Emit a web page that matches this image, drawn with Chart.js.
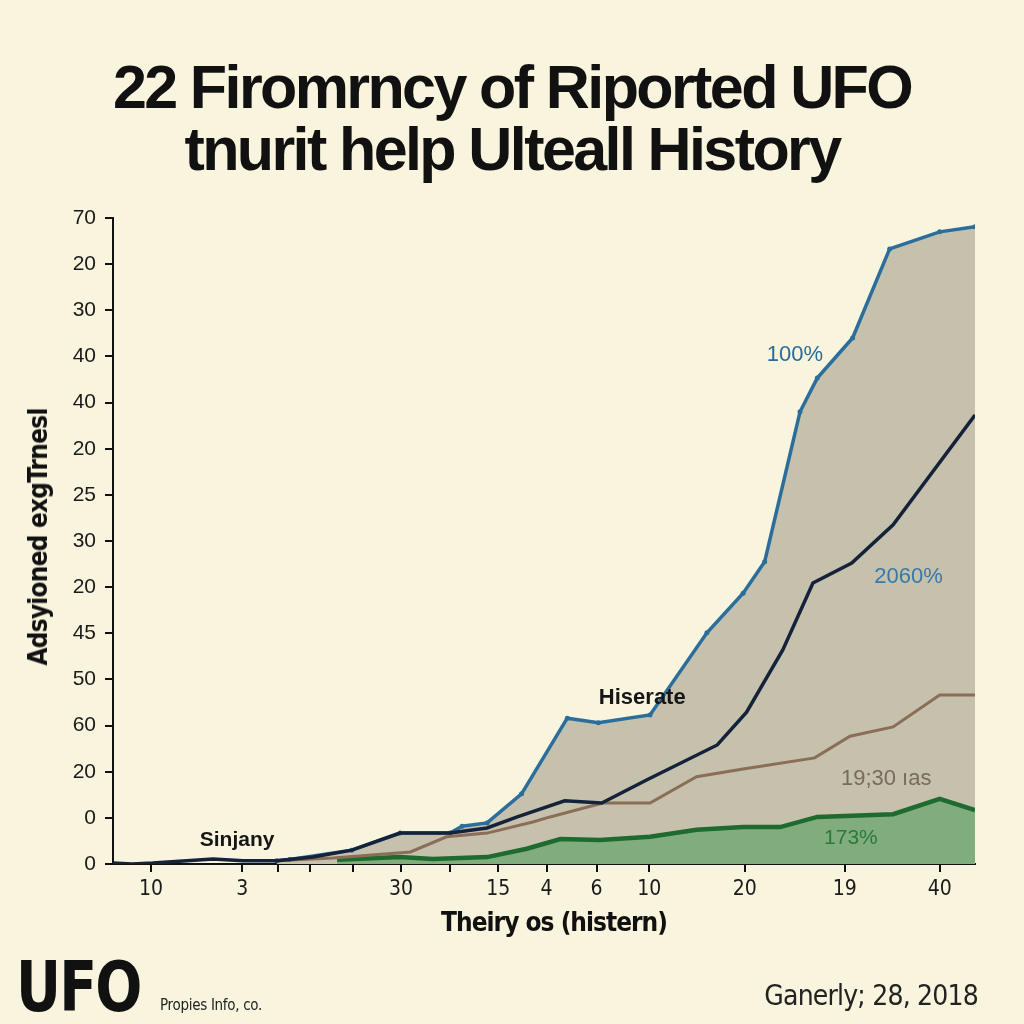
<!DOCTYPE html>
<html>
<head>
<meta charset="utf-8">
<script src="https://cdn.jsdelivr.net/npm/chart.js@4.4.0/dist/chart.umd.min.js"></script>
<style>
  html, body { margin: 0; padding: 0; background: #f8f4dd; }
  #wrap { position: relative; width: 1024px; height: 1024px; overflow: hidden; }
  #c { position: absolute; left: 0; top: 0; }
  .t { position: absolute; white-space: nowrap; color: #111; }
  #title { left: 0; width: 1024px; top: 56px; text-align: center; font: 700 61px "Liberation Sans", Arial, sans-serif; letter-spacing: -2.6px; line-height: 62px; }
  #ytitle { left: 38px; top: 537px; transform: translate(-50%, -50%) rotate(-90deg); font: 700 26px "DejaVu Sans Condensed", sans-serif; letter-spacing: -0.8px; }
  #xtitle { left: 554px; top: 922px; transform: translate(-50%, -50%); font: 700 26px "DejaVu Sans Condensed", sans-serif; letter-spacing: -1px; }
  #logo { left: 16px; top: 946px; font: 700 70px "DejaVu Sans Condensed", sans-serif; letter-spacing: -2px; transform: scaleX(0.88); transform-origin: left top; }
  #src { left: 160px; top: 996px; font: 400 15px "DejaVu Sans Condensed", sans-serif; color: #222; letter-spacing: -0.3px; }
  #date { right: 46px; top: 979px; font: 400 28px "DejaVu Sans Condensed", sans-serif; color: #222; letter-spacing: -0.8px; }
</style>
</head>
<body>
<div id="wrap">
  <canvas id="c" width="1024" height="1024"></canvas>
  <div class="t" id="title">22 Firomrncy of Riported UFO<br>tnurit help Ulteall History</div>
  <div class="t" id="ytitle">Adsyioned exgTrnesl</div>
  <div class="t" id="xtitle">Theiry os (histern)</div>
  <div class="t" id="logo">UFO</div>
  <div class="t" id="src">Propies Info, co.</div>
  <div class="t" id="date">Ganerly; 28, 2018</div>
</div>
<script>
// tick labels as printed on the chart (y: bottom to top)
const yTickLabels = ["0", "0", "20", "60", "50", "45", "20", "30", "25", "20", "40", "40", "30", "20", "70"];
const xTickValues = [4.4, 15.0, 19.1, 22.9, 27.8, 33.4, 39.1, 44.7, 50.3, 56.1, 62.2, 73.3, 84.9, 95.9];
const xTickLabels = ["10", "3", "", "", "", "30", "", "15", "4", "6", "10", "20", "19", "40"];

// series
const blueX = [19.0, 20.5, 27.7, 33.3, 39.1, 40.5, 43.4, 47.4, 52.7, 56.3, 62.3, 68.9, 73.1, 75.6, 79.7, 81.7, 85.8, 90.1, 95.9, 100];
const blueY = [0.07, 0.1, 0.3, 0.67, 0.67, 0.82, 0.89, 1.52, 3.16, 3.06, 3.23, 5.01, 5.87, 6.55, 9.8, 10.53, 11.4, 13.33, 13.7, 13.81];

const navyX = [0, 2.2, 4.6, 11.6, 15.1, 19.0, 23.2, 27.7, 33.3, 39.1, 43.4, 46.9, 52.4, 56.7, 61.9, 70.1, 73.5, 77.7, 81.2, 85.7, 90.5, 100];
const navyY = [0.02, 0, 0.02, 0.11, 0.07, 0.07, 0.15, 0.3, 0.67, 0.67, 0.78, 1.02, 1.37, 1.32, 1.82, 2.58, 3.29, 4.64, 6.09, 6.52, 7.35, 9.73];

const brownX = [19.0, 25.5, 34.5, 38.7, 43.4, 48.7, 50.7, 56.8, 62.3, 67.7, 73.1, 81.4, 85.5, 90.5, 95.9, 100];
const brownY = [0.07, 0.13, 0.26, 0.59, 0.67, 0.91, 1.02, 1.32, 1.32, 1.89, 2.06, 2.3, 2.77, 2.97, 3.66, 3.66];

const greenX = [26.0, 33.3, 37.1, 43.4, 48.0, 51.9, 56.5, 62.3, 67.7, 73.1, 77.4, 81.7, 90.5, 95.9, 100];
const greenY = [0.09, 0.15, 0.11, 0.15, 0.33, 0.54, 0.52, 0.59, 0.74, 0.8, 0.8, 1.02, 1.08, 1.41, 1.17];

// in-plot notes: text, x, y (data units)
const noteText = ["100%", "2060%", "Hiserate", "19;30 ıas", "173%", "Sinjany"];
const noteX = [79.1, 92.3, 61.4, 89.7, 85.6, 14.4];
const noteY = [11.03, 6.22, 3.6, 1.84, 0.56, 0.52];

const pts = (xs, ys) => xs.map((x, i) => ({ x, y: ys[i] }));

const noteStyles = [
	{ color: "#2c6a97", font: "400 22px 'Liberation Sans', Arial, sans-serif" },
	{ color: "#3a78a6", font: "400 22px 'Liberation Sans', Arial, sans-serif" },
	{ color: "#161616", font: "700 22px 'Liberation Sans', Arial, sans-serif" },
	{ color: "#7a6a5c", font: "400 22px 'Liberation Sans', Arial, sans-serif" },
	{ color: "#2b7a3c", font: "400 21px 'Liberation Sans', Arial, sans-serif" },
	{ color: "#161616", font: "700 21px 'Liberation Sans', Arial, sans-serif" },
];

const notesPlugin = {
	id: "notes",
	afterDatasetsDraw(chart) {
		const { ctx, scales } = chart;
		ctx.save();
		ctx.textAlign = "center";
		ctx.textBaseline = "middle";
		noteText.forEach((t, i) => {
			ctx.font = noteStyles[i].font;
			ctx.fillStyle = noteStyles[i].color;
			ctx.fillText(t, scales.x.getPixelForValue(noteX[i]), scales.y.getPixelForValue(noteY[i]));
		});
		ctx.restore();
	},
};

new Chart(document.getElementById("c"), {
	type: "line",
	data: {
		datasets: [
			{
				label: "blue",
				data: pts(blueX, blueY),
				borderColor: "#2b6e9c",
				backgroundColor: "#c5c1ad",
				borderWidth: 3.5,
				pointRadius: 2.5,
				pointBackgroundColor: "#2b6e9c",
				pointBorderWidth: 0,
				fill: "origin",
				tension: 0,
				order: 4,
			},
			{
				label: "green",
				data: pts(greenX, greenY),
				borderColor: "#1e6a2f",
				backgroundColor: "#80ac7e",
				borderWidth: 4.5,
				pointRadius: 0,
				fill: "origin",
				tension: 0,
				order: 3,
			},
			{
				label: "brown",
				data: pts(brownX, brownY),
				borderColor: "#8a6e57",
				borderWidth: 3,
				pointRadius: 0,
				fill: false,
				tension: 0,
				order: 2,
			},
			{
				label: "navy",
				data: pts(navyX, navyY),
				borderColor: "#14223a",
				borderWidth: 3.5,
				pointRadius: 0,
				fill: false,
				tension: 0,
				order: 1,
			},
		],
	},
	options: {
		responsive: false,
		animation: false,
		layout: { padding: { left: 0, top: 218, right: 49, bottom: 0 } },
		plugins: { legend: { display: false }, tooltip: { enabled: false } },
		scales: {
			x: {
				type: "linear",
				min: 0,
				max: 100,
				afterFit: (s) => { s.height = 160; },
				afterBuildTicks: (s) => { s.ticks = xTickValues.map((v) => ({ value: v })); },
				ticks: {
					autoSkip: false,
					maxRotation: 0,
					padding: 5,
					color: "#1a1a1a",
					font: { family: "'DejaVu Sans Condensed', sans-serif", size: 21 },
					callback: (v, i) => xTickLabels[i],
				},
				grid: { drawOnChartArea: false, tickLength: 8, color: "#111", lineWidth: 2 },
				border: { color: "#111", width: 2 },
			},
			y: {
				type: "linear",
				min: 0,
				max: 14,
				afterFit: (s) => { s.width = 113; },
				ticks: {
					stepSize: 1,
					padding: 9,
					color: "#1a1a1a",
					font: { family: "'Liberation Sans', Arial, sans-serif", size: 21 },
					callback: (v) => yTickLabels[v],
				},
				grid: { drawOnChartArea: false, tickLength: 8, color: "#111", lineWidth: 2 },
				border: { color: "#111", width: 2 },
			},
		},
	},
	plugins: [notesPlugin],
});
</script>
</body>
</html>
